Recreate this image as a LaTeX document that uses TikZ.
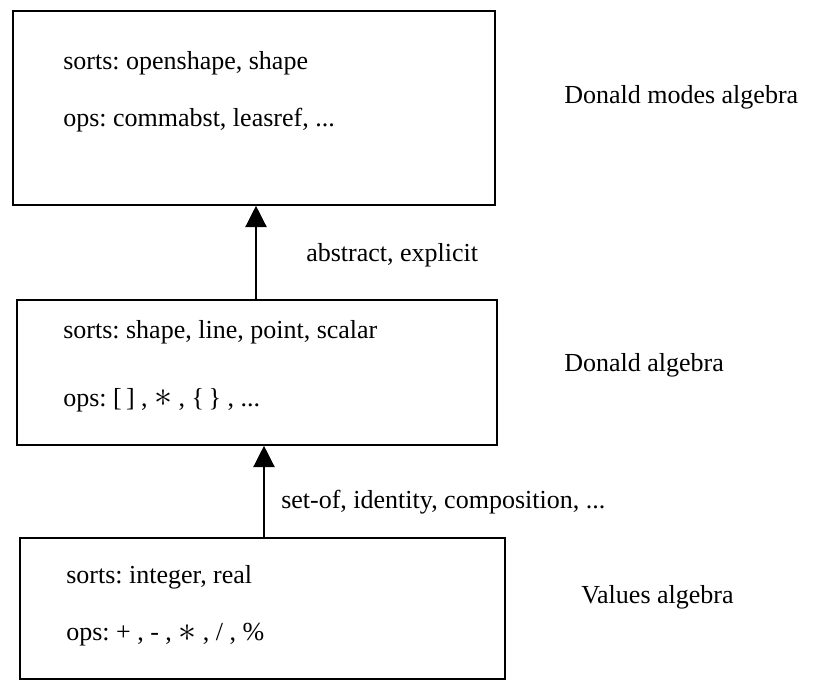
\documentclass[tikz,border=0pt]{standalone}
\usepackage{fontspec}
\setmainfont{Liberation Serif}
\usetikzlibrary{arrows.meta}
\newcommand{\opstar}{\raisebox{-0.5pt}{\scalebox{1.3}{$*$}}}

\begin{document}
\frenchspacing
\begin{tikzpicture}[x=0.75pt,y=0.75pt,yscale=-1,xscale=1,
  algbox/.style={draw, line width=1.2pt, inner sep=0pt},
  txt/.style={anchor=west, inner sep=0.75pt, font=\fontsize{19.5}{23}\selectfont},
  uparrow/.style={line width=1pt, -{Triangle[length=16pt,width=16pt]}}]
%set diagram size to the whole page
\path (0,0) rectangle (814,684);
%Shape: Rectangle [Donald modes algebra]
\node [algbox, minimum width=361.5pt, minimum height=145.5pt] (modes) at (254,108) {};
%Shape: Rectangle [Donald algebra]
\node [algbox, minimum width=360pt, minimum height=108.75pt] (donald) at (257,372.5) {};
%Shape: Rectangle [Values algebra]
\node [algbox, minimum width=363.75pt, minimum height=105.75pt] (values) at (262.5,608.5) {};
% Arrow x positions
\coordinate (upx) at (256,0);
\coordinate (lowx) at (264,0);
%Straight Lines with arrows
\draw [uparrow] (donald.north -| upx) -- (modes.south -| upx);
\draw [uparrow] (values.north -| lowx) -- (donald.south -| lowx);
% Text Node
\node [txt] (modessorts) at (62,63) {sorts: openshape, shape};
% Text Node
\node [txt] (modesops) at (62,120) {ops: commabst, leasref, ...};
% Text Node
\node [txt] (donaldsorts) at (62,332) {sorts: shape, line, point, scalar};
% Text Node
\node [txt] (donaldops) at (62,400) {ops: [\,] , \opstar{} , \{\,\} , ...};
% Text Node
\node [txt] (valuessorts) at (65,577) {sorts: integer, real};
% Text Node
\node [txt] (valuesops) at (65,635) {ops: + , - , \opstar{} , / , \%};
% Text Node
\node [txt] (abslabel) at (305,255) {abstract, explicit};
% Text Node
\node [txt] (setlabel) at (280,502) {set-of, identity, composition, ...};
% Text Node
\node [txt] (modesname) at (563,97) {Donald modes algebra};
% Text Node
\node [txt] (donaldname) at (563,365) {Donald algebra};
% Text Node
\node [txt] (valuesname) at (580,597) {Values algebra};
\end{tikzpicture}
\end{document}
